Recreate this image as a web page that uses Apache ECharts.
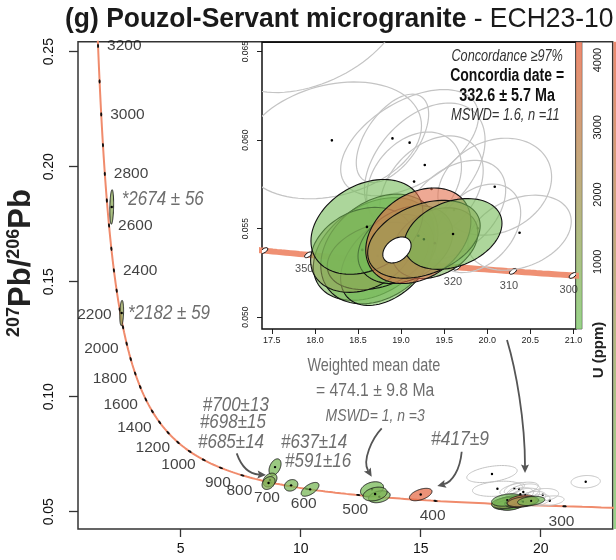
<!DOCTYPE html>
<html><head><meta charset="utf-8">
<script src="https://cdn.jsdelivr.net/npm/echarts@6/dist/echarts.min.js"></script>
<style>html,body{margin:0;padding:0;background:#fff}#c{width:616px;height:560px}</style>
</head><body><div id="c"></div>
<script>
// ---------------- data ----------------
// Rows: [238U/206Pb, ±(2s), 207Pb/206Pb, ±(2s), rho, U ppm]
const concordantGrains = [
  [18.682, 0.700, 0.05385, 0.00290, 0.35, 400],
  [18.748, 0.680, 0.05385, 0.00310, 0.30, 350],
  [18.838, 0.540, 0.05323, 0.00257, 0.40, 250],
  [18.729, 0.586, 0.05346, 0.00190, 0.30, 300],
  [18.550, 0.600, 0.05380, 0.00240, 0.25, 1300],
  [19.050, 0.550, 0.05410, 0.00220, 0.30, 300],
  [19.392, 0.500, 0.05418, 0.00200, 0.30, 500],
  [18.604, 0.650, 0.05510, 0.00268, 0.30, 250],
  [19.200, 0.610, 0.05460, 0.00270, 0.30, 4100],
  [19.265, 0.653, 0.05440, 0.00220, 0.35, 1800],
  [19.603, 0.568, 0.05470, 0.00200, 0.30, 300]
];
const rejectedGrains = [
  [17.970, 1.050, 0.06639, 0.00370, 0.40, 0],
  [18.197, 1.040, 0.05999, 0.00330, 0.25, 0],
  [18.900, 0.420, 0.06010, 0.00250, 0.55, 0],
  [19.099, 0.800, 0.05986, 0.00300, 0.50, 0],
  [19.275, 0.700, 0.05860, 0.00350, 0.40, 0],
  [19.151, 0.550, 0.05766, 0.00280, 0.30, 0],
  [19.353, 0.600, 0.05724, 0.00300, 0.35, 0],
  [20.087, 0.660, 0.05737, 0.00274, 0.20, 0],
  [20.375, 0.600, 0.05477, 0.00212, 0.30, 0],
  [19.888, 0.500, 0.05502, 0.00250, 0.35, 0],
  [19.614, 0.600, 0.05606, 0.00280, 0.40, 0],
  [21.875, 0.610, 0.06304, 0.00270, 0.10, 0]
];
const inheritedGrains = [
  [2.125, 0.080, 0.18250, 0.00750, 0.20, 1100],
  [2.540, 0.080, 0.13640, 0.00550, 0.20, 1400],
  [8.930, 0.250, 0.06940, 0.00360, 0.40, 400],
  [8.720, 0.290, 0.06378, 0.00300, 0.30, 650],
  [8.660, 0.270, 0.06248, 0.00280, 0.30, 900],
  [9.600, 0.280, 0.06148, 0.00250, 0.20, 500],
  [10.390, 0.370, 0.05974, 0.00300, 0.60, 450],
  [12.970, 0.480, 0.05974, 0.00330, 0.30, 350],
  [13.275, 0.450, 0.05652, 0.00260, 0.30, 450],
  [13.100, 0.500, 0.05770, 0.00300, 0.30, 600],
  [15.000, 0.470, 0.05748, 0.00270, 0.50, 4200]
];
const concordiaDateEllipse = [[18.952, 0.164, 0.053797, 0.000734, 0.35, 0]];

const tickAges = [300,400,500,600,700,800,900,1000,1100,1200,1300,1400,1500,1600,1700,1800,
  1900,2000,2100,2200,2300,2400,2500,2600,2700,2800,2900,3000,3100,3200];
const labelAges = [300,400,500,600,700,800,900,1000,1200,1400,1600,1800,2000,2200,2400,2600,2800,3000,3200];
const insetTickAges = [300,310,320,330,340,350,360];
const insetLabelAges = [300,310,320,350];

const mainXTicks = [5,10,15,20];
const mainYTicks = [0.05,0.10,0.15,0.20,0.25];
const insetXTicks = [17.5,18.0,18.5,19.0,19.5,20.0,20.5,21.0];
const insetYTicks = [0.050,0.055,0.060,0.065];
const uTicks = [500,1000,1500,2000,2500,3000,3500,4000];
const uLabels = [1000,2000,3000,4000];
const U_MAX = 4264;

// ---------------- concordia (Tera-Wasserburg) ----------------
const L238 = 1.55125e-10, L235 = 9.8485e-10, U238_235 = 137.818;
function tw(tMa){
  const t = tMa*1e6, e8 = Math.exp(L238*t)-1, e5 = Math.exp(L235*t)-1;
  return [1/e8, e5/e8/U238_235];
}
const curveMain = []; for (let a=260; a<=3300; a+=5) curveMain.push(tw(a));
const curveInset = []; for (let a=280; a<=380; a+=1) curveInset.push(tw(a));

// U (ppm) colour ramp: green -> brown -> salmon
const rampStops = [[0,[110,192,88]],[0.5,[168,148,86]],[1,[232,108,75]]];
function uColor(u, a){
  const f = Math.max(0, Math.min(1, u/U_MAX));
  let i = 0; while (i < rampStops.length-2 && f > rampStops[i+1][0]) i++;
  const [f0,c0] = rampStops[i], [f1,c1] = rampStops[i+1], k = (f-f0)/(f1-f0);
  const c = c0.map((v,j)=>Math.round(v+(c1[j]-v)*k));
  return 'rgba('+c[0]+','+c[1]+','+c[2]+','+a+')';
}

const FA = "'Liberation Sans',Arial,sans-serif";

function ellipseRenderer(fillFn, stroke, lw, dotR){
  return function(params, api){
    const x=api.value(0), ex=api.value(1), y=api.value(2), ey=api.value(3), rho=api.value(4), u=api.value(5);
    const s = Math.sqrt(1-rho*rho), pts=[];
    for (let i=0;i<90;i++){
      const th=i/90*2*Math.PI, c=Math.cos(th), sn=Math.sin(th);
      pts.push(api.coord([x+ex*c, y+ey*(rho*c+s*sn)]));
    }
    const ctr = api.coord([x,y]);
    const kids = [{type:'polygon', shape:{points:pts}, style:{fill:fillFn(u), stroke:stroke, lineWidth:lw}}];
    if (dotR>0) kids.push({type:'circle', shape:{cx:ctr[0], cy:ctr[1], r:dotR}, style:{fill:'#000'}});
    return {type:'group', children:kids};
  };
}

function markerRenderer(rx, ry, fill, stroke, tilt){
  return function(params, api){
    const a = api.value(0);
    const p = api.coord(tw(a)), q = api.coord(tw(a+5));
    const ang = tilt!=null ? tilt : -Math.atan2(q[1]-p[1], q[0]-p[0]);
    return {type:'ellipse', x:p[0], y:p[1], rotation:ang, shape:{cx:0, cy:0, rx:rx, ry:ry},
      style:{fill:fill, stroke:stroke, lineWidth:stroke?0.9:0}};
  };
}

function ageLabelItem(a){
  const v = tw(a);
  let lab;
  if (a >= 2400) lab = {position:'right', distance:9, offset:[0,0]};
  else if (a >= 1000) lab = {position:'left', distance:8, offset:[0,5]};
  else lab = {position:'bottom', distance:7, offset:[-3,0]};
  return {value:v, label:Object.assign({show:true, formatter:String(a), fontSize:15.5, color:'#111', fontFamily:FA}, lab)};
}

const colorBarFill = () => new echarts.graphic.LinearGradient(0,0,0,1,[
  {offset:0, color:uColor(U_MAX,0.8)},{offset:0.5, color:uColor(U_MAX/2,0.75)},{offset:1, color:uColor(0,0.7)}]);

const chart = echarts.init(document.getElementById('c'));
const option = {
  animation:false,
  grid:[
    {left:78, right:3.3, top:41.7, bottom:31, show:true, borderColor:'#333', borderWidth:1.5},
    {left:262, top:42.3, width:314, height:286.7, show:true, backgroundColor:'#fff', borderColor:'#111', borderWidth:1.5, z:3},
    {left:576, top:42.3, width:6, height:286.7, show:true, backgroundColor:'#fff', borderColor:'#555', borderWidth:0.8, z:3}
  ],
  xAxis:[
    {gridIndex:0, type:'value', min:0.72, max:23.0, axisLine:{show:false}, splitLine:{show:false},
     axisTick:{show:true, customValues:mainXTicks, length:8, lineStyle:{color:'#333', width:1.3}},
     axisLabel:{customValues:mainXTicks, fontSize:14, color:'#111', margin:13, fontFamily:FA}},
    {gridIndex:1, type:'value', min:17.386, max:21.03, axisLine:{show:false}, splitLine:{show:false},
     axisTick:{show:true, customValues:insetXTicks, length:5, lineStyle:{color:'#222', width:1}},
     axisLabel:{customValues:insetXTicks, fontSize:9, color:'#222', margin:7, fontFamily:FA, formatter:v=>v.toFixed(1)}},
    {gridIndex:2, type:'value', min:0, max:1, show:false}
  ],
  yAxis:[
    {gridIndex:0, type:'value', min:0.0425, max:0.25435, axisLine:{show:false}, splitLine:{show:false},
     axisTick:{show:true, customValues:mainYTicks, length:9, lineStyle:{color:'#333', width:1.3}},
     axisLabel:{customValues:mainYTicks, rotate:90, fontSize:14, color:'#111', margin:22, fontFamily:FA, formatter:v=>v.toFixed(2)}},
    {gridIndex:1, type:'value', min:0.04933, max:0.06553, axisLine:{show:false}, splitLine:{show:false},
     axisTick:{show:true, customValues:insetYTicks, length:5, lineStyle:{color:'#222', width:1}},
     axisLabel:{customValues:insetYTicks, rotate:90, fontSize:8.5, color:'#222', margin:12, fontFamily:FA, formatter:v=>v.toFixed(3)}},
    {gridIndex:2, type:'value', position:'right', min:0, max:U_MAX, axisLine:{show:false}, splitLine:{show:false},
     axisTick:{show:true, customValues:uTicks, length:6, lineStyle:{color:'#333', width:1}},
     axisLabel:{customValues:uLabels, rotate:90, fontSize:11, color:'#222', margin:10, fontFamily:FA, formatter:v=>String(v)}}
  ],
  series:[
    // ---- main plot ----
    {type:'line', xAxisIndex:0, yAxisIndex:0, data:curveMain, showSymbol:false, smooth:false,
     lineStyle:{color:'#f08b6c', width:2}, z:2, silent:true},
    {type:'custom', xAxisIndex:0, yAxisIndex:0, data:tickAges.map(a=>[a]), clip:true, z:3,
     renderItem:markerRenderer(2.2, 1.0, '#111', null, null)},
    {type:'scatter', xAxisIndex:0, yAxisIndex:0, symbolSize:0, data:labelAges.map(ageLabelItem), z:3, silent:true},
    {type:'custom', xAxisIndex:0, yAxisIndex:0, data:rejectedGrains, clip:true, z:3,
     renderItem:ellipseRenderer(()=>'none', '#c2c2c2', 1, 1.2)},
    {type:'custom', xAxisIndex:0, yAxisIndex:0, data:inheritedGrains, clip:true, z:4,
     renderItem:ellipseRenderer(u=>uColor(u,0.75), '#1a1a1a', 0.9, 1.2)},
    {type:'custom', xAxisIndex:0, yAxisIndex:0, data:concordantGrains, clip:true, z:4,
     renderItem:ellipseRenderer(u=>uColor(u,0.7), '#1a1a1a', 0.8, 1.1)},
    // ---- inset ----
    {type:'line', xAxisIndex:1, yAxisIndex:1, data:curveInset, showSymbol:false,
     lineStyle:{color:'#ee8a6c', width:6, opacity:0.95}, z:5, clip:true, silent:true},
    {type:'custom', xAxisIndex:1, yAxisIndex:1, data:insetTickAges.map(a=>[a]), clip:true, z:6,
     renderItem:markerRenderer(4.2, 2.0, '#fff', '#111', 0.6)},
    {type:'scatter', xAxisIndex:1, yAxisIndex:1, symbolSize:0, z:6, silent:true,
     data:insetLabelAges.map(a=>({value:tw(a)})),
     label:{show:true, position:'bottom', distance:9, offset:[-4,0], fontSize:11, color:'#222', fontFamily:FA,
       formatter:p=>String(insetLabelAges[p.dataIndex])}},
    {type:'custom', xAxisIndex:1, yAxisIndex:1, data:rejectedGrains, clip:true, z:7,
     renderItem:ellipseRenderer(()=>'none', '#c4c4c4', 1.2, 1.3)},
    {type:'custom', xAxisIndex:1, yAxisIndex:1, data:concordantGrains, clip:true, z:8,
     renderItem:ellipseRenderer(u=>uColor(u,0.6), '#111', 1.1, 1.3)},
    {type:'custom', xAxisIndex:1, yAxisIndex:1, data:concordiaDateEllipse, clip:true, z:9,
     renderItem:ellipseRenderer(()=>'#fff', '#111', 1.1, 0)},
    // ---- U colour bar ----
    {type:'custom', xAxisIndex:2, yAxisIndex:2, data:[[0]], z:4, silent:true,
     renderItem:function(params, api){
       const p0 = api.coord([0, U_MAX]), p1 = api.coord([1, 0]);
       return {type:'rect', shape:{x:p0[0], y:p0[1], width:p1[0]-p0[0], height:p1[1]-p0[1]},
         style:{fill:colorBarFill()}};
     }}
  ]
};
chart.setOption(option);

// ---------------- annotations (data coordinates of the grid they sit on) ----------------
const GREY = '#6e6e6e';
const notes = [
  {g:0, at:[2.54,0.18587], text:'*2674 ± 56', size:20, sx:0.85, italic:true, align:'left'},
  {g:0, at:[2.80,0.13626], text:'*2182 ± 59', size:20, sx:0.85, italic:true, align:'left'},
  {g:0, at:[5.92,0.09639], text:'#700±13', size:20, sx:0.85, italic:true, align:'left'},
  {g:0, at:[5.80,0.08870], text:'#698±15', size:20, sx:0.85, italic:true, align:'left'},
  {g:0, at:[5.72,0.08000], text:'#685±14', size:20, sx:0.85, italic:true, align:'left'},
  {g:0, at:[9.18,0.08000], text:'#637±14', size:20, sx:0.85, italic:true, align:'left'},
  {g:0, at:[9.35,0.07174], text:'#591±16', size:20, sx:0.85, italic:true, align:'left'},
  {g:0, at:[13.05,0.11335], text:'Weighted mean date', size:18.5, sx:0.78, align:'center'},
  {g:0, at:[13.10,0.10248], text:'= 474.1 ± 9.8 Ma', size:18.5, sx:0.85, align:'center'},
  {g:0, at:[13.10,0.09130], text:'MSWD= 1, n =3', size:16, sx:0.87, italic:true, align:'center'},
  {g:0, at:[15.43,0.08148], text:'#417±9', size:20, sx:0.87, italic:true, align:'left'},
  {g:1, at:[20.231,0.06476], text:'Concordance ≥97%', size:16.5, sx:0.77, italic:true, align:'center', color:'#333'},
  {g:1, at:[20.231,0.06359], text:'Concordia date =', size:17.5, sx:0.8, bold:true, align:'center', color:'#111'},
  {g:1, at:[20.231,0.06250], text:'332.6 ± 5.7 Ma', size:17.5, sx:0.82, bold:true, align:'center', color:'#111'},
  {g:1, at:[20.210,0.06142], text:'MSWD= 1.6, n =11', size:16.5, sx:0.78, italic:true, align:'center', color:'#333'}
];
// curved arrows: start, control 1, control 2, end (main-plot data coordinates)
const arrows = [
  [[7.333,0.07539],[7.55,0.0690],[7.90,0.06640],[8.554,0.06600]],
  [[13.375,0.08626],[12.971,0.08187],[12.554,0.07230],[12.958,0.06522]],
  [[16.708,0.07609],[16.638,0.06813],[16.304,0.06291],[15.692,0.06117]],
  [[18.596,0.12465],[18.971,0.11161],[19.346,0.08987],[19.346,0.06683]]
];

const px = (g,p)=>chart.convertToPixel({gridIndex:g}, p);
const graphics = [];
// title
graphics.push({type:'text', x:65, y:19, scaleX:0.945, z:50, silent:true, style:{
  text:'{b|(g) Pouzol-Servant microgranite}{n| - ECH23-10}', align:'left', verticalAlign:'middle',
  rich:{b:{fontSize:28, fontWeight:'bold', fontFamily:FA, fill:'#1a1a1a'},
        n:{fontSize:28, fontWeight:'normal', fontFamily:FA, fill:'#1a1a1a'}}}});
notes.forEach(n=>{
  const p = px(n.g, n.at);
  graphics.push({type:'text', x:p[0], y:p[1], scaleX:n.sx, z:50, silent:true, style:{
    text:n.text, fill:n.color||GREY, fontSize:n.size, fontFamily:FA,
    fontStyle:n.italic?'italic':'normal', fontWeight:n.bold?'bold':'normal',
    align:n.align, verticalAlign:'middle'}});
});
arrows.forEach(a=>{
  const [s,c1,c2,e] = a.map(p=>px(0,p));
  const dx = e[0]-c2[0], dy = e[1]-c2[1], L = Math.hypot(dx,dy), ux = dx/L, uy = dy/L;
  const hl = 10, hw = 4;
  const bx = e[0]-ux*hl, by = e[1]-uy*hl;
  graphics.push({type:'bezierCurve', z:50, silent:true,
    shape:{x1:s[0], y1:s[1], cpx1:c1[0], cpy1:c1[1], cpx2:c2[0], cpy2:c2[1], x2:bx+ux*3, y2:by+uy*3},
    style:{stroke:'#555', lineWidth:1.8, fill:null}});
  graphics.push({type:'polygon', z:50, silent:true,
    shape:{points:[[e[0],e[1]],[bx-uy*hw+ux*1.5, by+ux*hw+uy*1.5],[bx+ux*3,by+uy*3],[bx+uy*hw+ux*1.5, by-ux*hw+uy*1.5]]},
    style:{fill:'#555'}});
});
// y-axis title
graphics.push({type:'text', x:21, y:263, rotation:Math.PI/2, z:50, silent:true, style:{
  text:'{s|207}{m|Pb/}{s|206}{m|Pb}', align:'center', verticalAlign:'middle',
  rich:{m:{fontSize:31, fontWeight:'bold', fontFamily:FA, fill:'#222', lineHeight:31},
        s:{fontSize:18, fontWeight:'bold', fontFamily:FA, fill:'#222', lineHeight:18, verticalAlign:'top'}}}});
// U axis title
graphics.push({type:'text', x:599, y:350, rotation:Math.PI/2, z:50, silent:true, style:{
  text:'U (ppm)', fontSize:15, fontWeight:'bold', fontFamily:FA, fill:'#222', align:'center', verticalAlign:'middle'}});
// colour strip of the adjacent panel at the right edge
graphics.push({type:'rect', z:1, silent:true, shape:{x:613.5, y:41.7, width:3, height:487.3},
  style:{fill:colorBarFill()}});
chart.setOption({graphic:graphics});
</script></body></html>
